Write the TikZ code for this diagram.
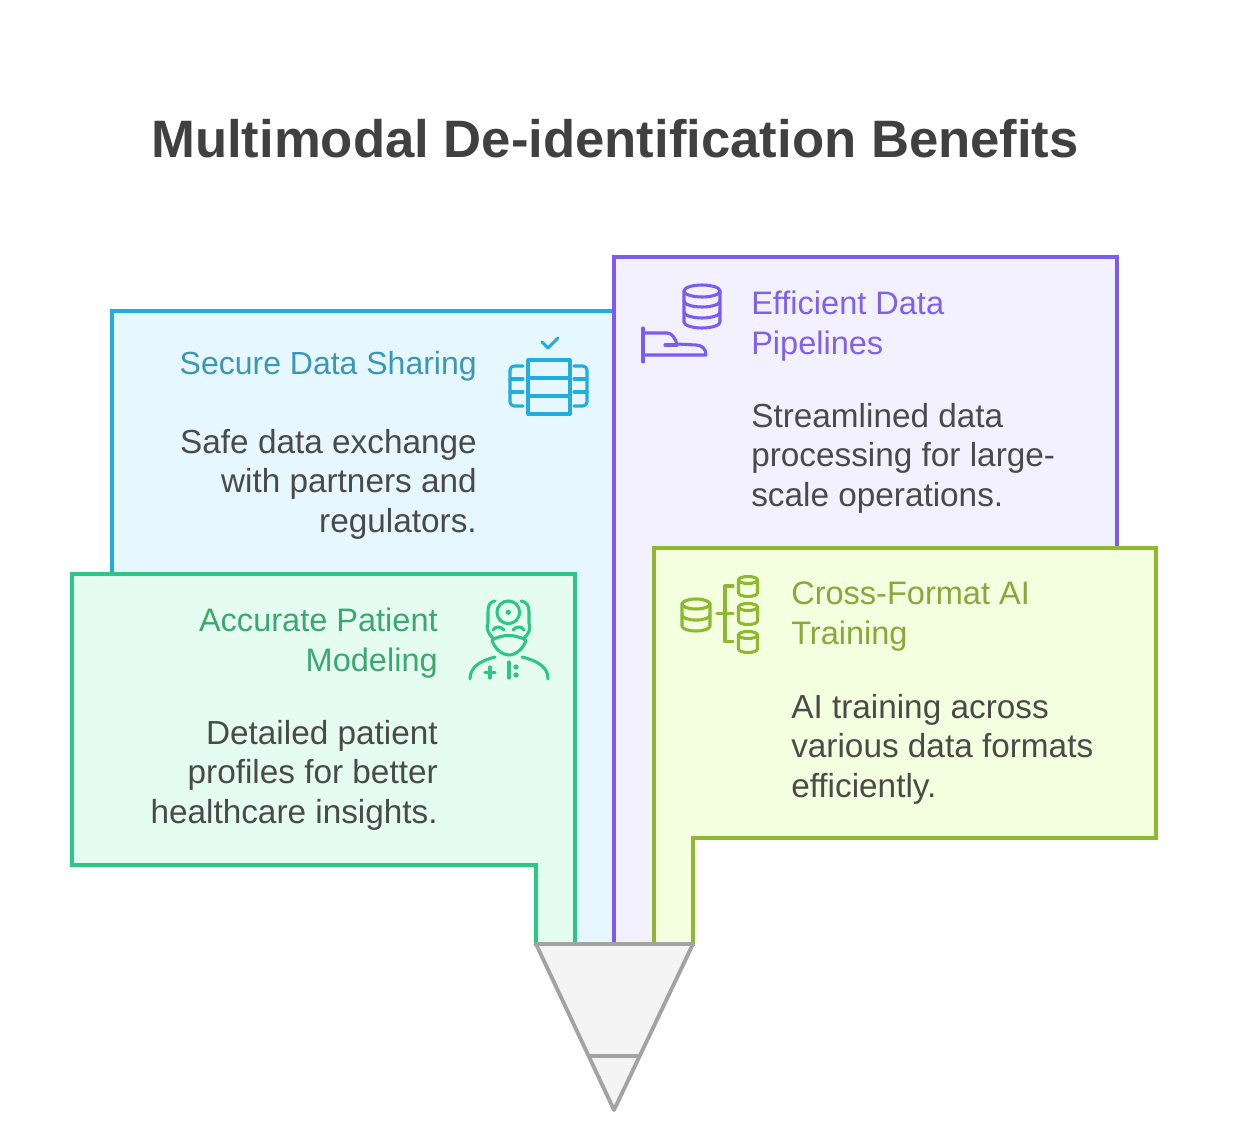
\documentclass[tikz,border=0pt]{standalone}
\usepackage{fontspec}
\setmainfont{Liberation Sans}
\definecolor{blueS}{HTML}{1FAEDD}\definecolor{blueF}{HTML}{E7F7FF}\definecolor{blueT}{HTML}{3A97B5}
\definecolor{purpS}{HTML}{7B5CF0}\definecolor{purpF}{HTML}{F3F0FF}\definecolor{purpT}{HTML}{7F62E8}
\definecolor{greenS}{HTML}{2CC784}\definecolor{greenF}{HTML}{E4FDF0}\definecolor{greenT}{HTML}{3AA870}
\definecolor{limeS}{HTML}{8DB92E}\definecolor{limeF}{HTML}{F3FFDE}\definecolor{limeT}{HTML}{8AA83A}
\definecolor{bodyT}{HTML}{4A4A4A}\definecolor{titleT}{HTML}{404040}
\definecolor{grayS}{HTML}{A3A3A3}\definecolor{grayF}{HTML}{F4F4F4}
\tikzset{
 panel/.style={line width=2.4pt,line join=miter},
 funnel/.style={line width=2.9pt,draw=grayS},
 icon/.style={line width=2.3pt,line cap=round,line join=round},
 txt/.style={inner sep=0pt,font=\fontsize{25}{29.6}\selectfont,text=bodyT},
 headR/.style={txt,anchor=north east,align=right},
 headL/.style={txt,anchor=north west,align=left},
 hfont/.style={font=\fontsize{24.4}{29.6}\selectfont},
}
% database: centre x, top y, bottom y, half width, number of bands
\newcommand{\dbicon}[6]{%
 \pgfmathsetmacro{\ry}{#5}%
 \draw[icon,#6] (#1,#2) ellipse [x radius=#4*0.75pt,y radius=\ry*0.75pt];
 \draw[icon,#6] (#1-#4,#2) -- (#1-#4,#3) arc[start angle=180,end angle=360,x radius=#4*0.75pt,y radius=\ry*0.75pt] -- (#1+#4,#2);
}
\begin{document}
\begin{tikzpicture}[x=0.75pt,y=-0.75pt]
\useasboundingbox (0,0) rectangle (1240,1123);
% panels
\draw[panel,draw=blueS,fill=blueF] (112,574) -- (112,311) -- (614,311) -- (614,944) -- (575,944) -- (575,574) -- cycle;
\draw[panel,draw=purpS,fill=purpF] (614,944) -- (614,257) -- (1117,257) -- (1117,548) -- (654,548) -- (654,944) -- cycle;
\draw[panel,draw=greenS,fill=greenF] (72,574) -- (575,574) -- (575,944) -- (536,944) -- (536,865) -- (72,865) -- cycle;
\draw[panel,draw=limeS,fill=limeF] (654,548) -- (1156,548) -- (1156,838) -- (693,838) -- (693,944) -- (654,944) -- cycle;
% funnel
\draw[funnel,fill=grayF,line join=round] (536,944) -- (693,944) -- (614,1110) -- cycle;
\draw[funnel] (589,1056) -- (640,1056);
% title
\node[inner sep=0pt,anchor=base,text=titleT,font=\fontsize{39.5}{46}\selectfont\bfseries] (title) at (615,158) {Multimodal De-identification Benefits};
% texts
\node[headR,font=\fontsize{24}{29.6}\selectfont,text=blueT] (h1) at (477,351) {Secure Data Sharing};
\node[headR] (b1) at (477,429) {Safe data exchange\\with partners and\\regulators.};
\node[headL,hfont,text=purpT] (h2) at (751,291) {Efficient Data\\Pipelines};
\node[headL] (b2) at (751,403) {Streamlined data\\processing for large-\\scale operations.};
\node[headR,hfont,text=greenT] (h3) at (438,608) {Accurate Patient\\Modeling};
\node[headR] (b3) at (438,720) {Detailed patient\\profiles for better\\healthcare insights.};
\node[headL,hfont,text=limeT] (h4) at (791,582) {Cross-Format AI\\Training};
\node[headL] (b4) at (791,694) {AI training across\\various data formats\\efficiently.};
% blue icon
\draw[icon,blueS] (542,342) -- (548,348) -- (558,338);
\draw[icon,blueS] (528,360) rectangle (570,414);
\draw[icon,blueS] (528,378) -- (570,378) (528,396) -- (570,396);
\draw[icon,blueS] (523,366) -- (514,366) arc[start angle=90,end angle=180,radius=3pt] -- (510,402) arc[start angle=180,end angle=270,radius=3pt] -- (523,406);
\draw[icon,blueS] (510,379) -- (523,379) (510,392) -- (523,392);
\draw[icon,blueS] (574,366) -- (583,366) arc[start angle=90,end angle=0,radius=3pt] -- (587,402) arc[start angle=0,end angle=-90,radius=3pt] -- (574,406);
\draw[icon,blueS] (574,379) -- (587,379) (574,392) -- (587,392);
% purple icon
\dbicon{702}{291}{322}{18}{6}{purpS}
\draw[icon,purpS] (684,301) arc[start angle=180,end angle=360,x radius=13.5pt,y radius=4.5pt];
\draw[icon,purpS] (684,312) arc[start angle=180,end angle=360,x radius=13.5pt,y radius=4.5pt];
\draw[icon,purpS] (643,328) -- (643,362);
\draw[icon,purpS] (643,333) -- (667,333) .. controls (672,333) and (675,338) .. (677,344) -- (696,345) .. controls (702,345) and (706,349) .. (706,355) -- (643,355);
\draw[icon,purpS] (665,345) -- (677,345);
% green icon
\draw[icon,greenS] (508.3,612.3) circle [radius=8.5pt];
\fill[greenS] (508.3,612.3) circle [radius=2pt];
\draw[icon,greenS] (495,601) .. controls (489,602) and (488,606) .. (488,612) -- (488,623) .. controls (486,628) and (488,634) .. (493,638);
\draw[icon,greenS] (521,601) .. controls (527,602) and (529,606) .. (529,612) -- (529,623) .. controls (531,628) and (529,634) .. (524,638);
\draw[icon,greenS] (493,630) .. controls (495,626) and (501,626) .. (504,630);
\draw[icon,greenS] (513,630) .. controls (516,626) and (522,626) .. (524,630);
\draw[icon,greenS] (492,640) .. controls (503,634) and (514,634) .. (526,640) .. controls (524,648) and (516,655) .. (509,655) .. controls (502,655) and (494,648) .. (492,640);
\draw[icon,greenS] (470,679) .. controls (470,667) and (480,661) .. (495,657);
\draw[icon,greenS] (548,679) .. controls (548,667) and (538,661) .. (522,657);
\draw[icon,greenS] (490,667) -- (490,678) (485,672.5) -- (495,672.5);
\draw[icon,greenS] (509,662) -- (509,678);
\fill[greenS] (516,667) circle [radius=2pt] (516,675) circle [radius=2pt];
% lime icon
\dbicon{696}{604}{626}{14}{5}{limeS}
\draw[icon,limeS] (682,615) arc[start angle=180,end angle=360,x radius=10.5pt,y radius=3.8pt];
\draw[icon,limeS] (717,613.5) -- (733,613.5);
\draw[icon,limeS] (733,586) -- (725,586) -- (725,641.5) -- (733,641.5);
\dbicon{748}{580}{593}{9.5}{3.5}{limeS}
\dbicon{748}{607}{621}{9.5}{3.5}{limeS}
\dbicon{748}{635}{649}{9.5}{3.5}{limeS}
\end{tikzpicture}
\end{document}
